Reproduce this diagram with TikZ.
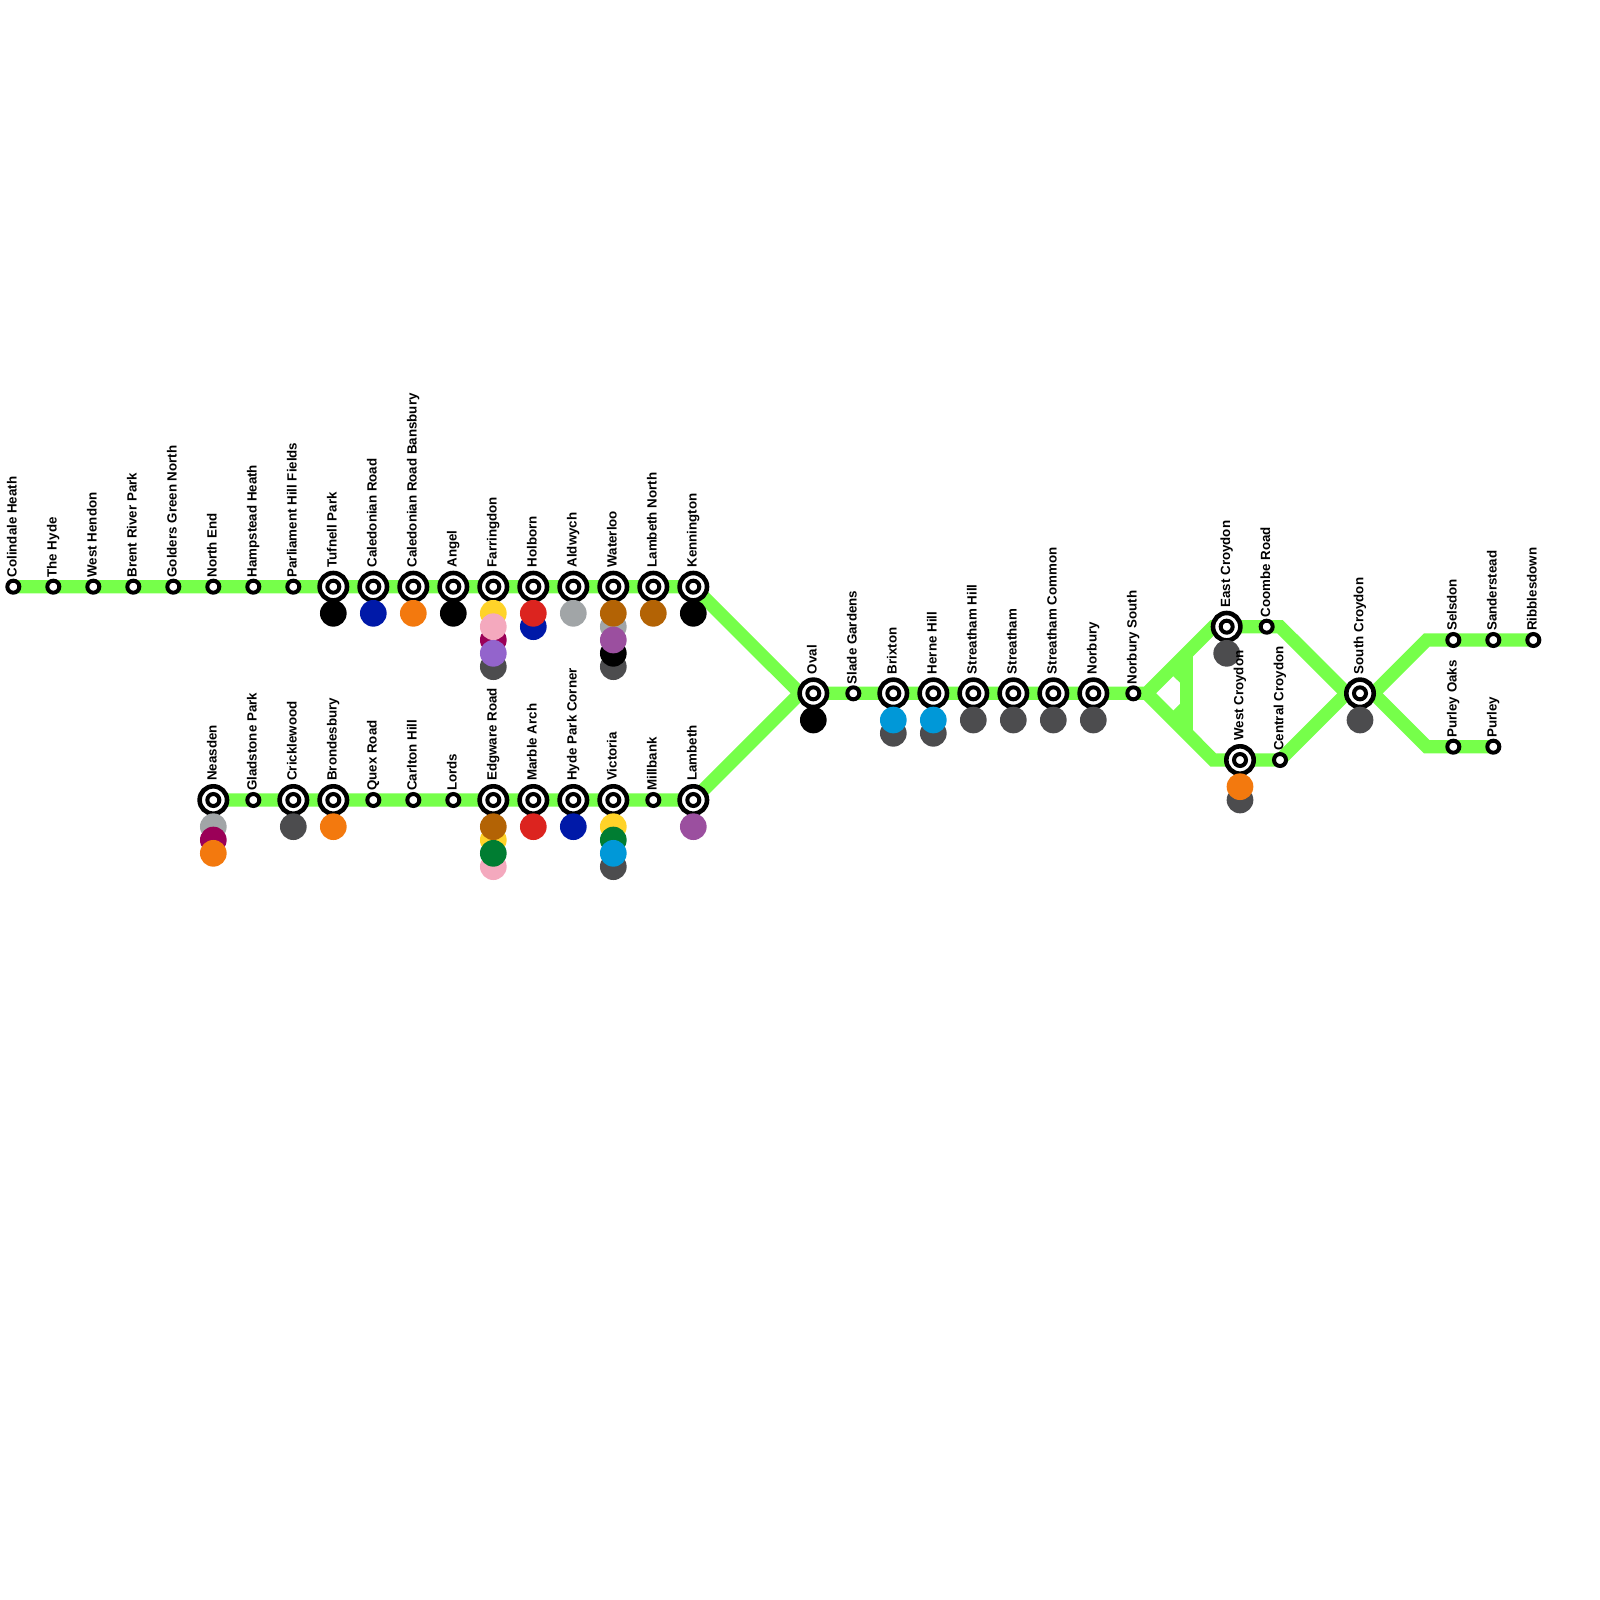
\documentclass[tikz,border=0pt]{standalone}
\usepackage{fontspec}
\setmainfont{Liberation Sans}
\usetikzlibrary{backgrounds}
\definecolor{routegreen}{HTML}{76FF4A}
\definecolor{tyellow}{HTML}{FFD329}
\definecolor{tpink}{HTML}{F4A9BE}
\definecolor{tmagenta}{HTML}{9B0058}
\definecolor{tpurple}{HTML}{9364CC}
\definecolor{tgrey}{HTML}{4C4C4E}
\definecolor{tred}{HTML}{DC241F}
\definecolor{tnavy}{HTML}{0019A8}
\definecolor{tsilver}{HTML}{A1A5A7}
\definecolor{tbrown}{HTML}{B36305}
\definecolor{tviolet}{HTML}{9B4F9F}
\definecolor{torange}{HTML}{F3790E}
\definecolor{tgreen}{HTML}{007D32}
\definecolor{tblue}{HTML}{0098D8}
\tikzset{
  route/.style={draw=routegreen,line width=0.333cm},
  halt/.style={circle,draw=black,fill=white,line width=0.1cm,minimum size=0.3cm,inner sep=0pt},
  interchange/.style={halt,line width=0.115cm,minimum size=0.685cm,
    path picture={\draw[line width=0.1cm] (path picture bounding box.center) circle (0.15);}},
  dot/.style={circle,fill=#1,minimum size=0.667cm,inner sep=0pt},
  lbl/.style={xshift=0.083cm,yshift=-0.025cm,rotate=90,anchor=base west,inner sep=0pt,font=\bfseries\fontsize{9.48}{11}\selectfont},
}
\begin{document}
\begin{tikzpicture}[x=1cm,y=-1cm]
\useasboundingbox (0,0) rectangle (40,40);
% upper row
\node[halt] (colindale) at (0.333,14.667) {};
\node[halt] (hyde) at (1.333,14.667) {};
\node[halt] (hendon) at (2.333,14.667) {};
\node[halt] (brent) at (3.333,14.667) {};
\node[halt] (golders) at (4.333,14.667) {};
\node[halt] (northend) at (5.333,14.667) {};
\node[halt] (hampstead) at (6.333,14.667) {};
\node[halt] (parliament) at (7.333,14.667) {};
\node[interchange] (tufnell) at (8.333,14.667) {};
\node[interchange] (caledonian) at (9.333,14.667) {};
\node[interchange] (bansbury) at (10.333,14.667) {};
\node[interchange] (angel) at (11.333,14.667) {};
\node[interchange] (farringdon) at (12.333,14.667) {};
\node[interchange] (holborn) at (13.333,14.667) {};
\node[interchange] (aldwych) at (14.333,14.667) {};
\node[interchange] (waterloo) at (15.333,14.667) {};
\node[interchange] (lambnorth) at (16.333,14.667) {};
\node[interchange] (kennington) at (17.333,14.667) {};
% lower row
\node[interchange] (neasden) at (5.333,20) {};
\node[halt] (gladstone) at (6.333,20) {};
\node[interchange] (cricklewood) at (7.333,20) {};
\node[interchange] (brondesbury) at (8.333,20) {};
\node[halt] (quex) at (9.333,20) {};
\node[halt] (carlton) at (10.333,20) {};
\node[halt] (lords) at (11.333,20) {};
\node[interchange] (edgware) at (12.333,20) {};
\node[interchange] (marble) at (13.333,20) {};
\node[interchange] (hydepark) at (14.333,20) {};
\node[interchange] (victoria) at (15.333,20) {};
\node[halt] (millbank) at (16.333,20) {};
\node[interchange] (lambeth) at (17.333,20) {};
% middle row
\node[interchange] (oval) at (20.333,17.333) {};
\node[halt] (slade) at (21.333,17.333) {};
\node[interchange] (brixton) at (22.333,17.333) {};
\node[interchange] (herne) at (23.333,17.333) {};
\node[interchange] (sthill) at (24.333,17.333) {};
\node[interchange] (streatham) at (25.333,17.333) {};
\node[interchange] (stcommon) at (26.333,17.333) {};
\node[interchange] (norbury) at (27.333,17.333) {};
\node[halt] (norsouth) at (28.333,17.333) {};
% croydon and south
\node[interchange] (eastcroy) at (30.667,15.667) {};
\node[halt] (coombe) at (31.667,15.667) {};
\node[interchange] (westcroy) at (31,19) {};
\node[halt] (central) at (32,19) {};
\node[interchange] (southcroy) at (34,17.333) {};
\node[halt] (selsdon) at (36.333,16) {};
\node[halt] (sanderstead) at (37.333,16) {};
\node[halt] (ribbles) at (38.333,16) {};
\node[halt] (purleyoaks) at (36.333,18.667) {};
\node[halt] (purley) at (37.333,18.667) {};
% bends
\coordinate (joinoval) at (20,17.333);
\coordinate (fork) at (28.667,17.333);
\coordinate (bendeast) at (30.333,15.667);
\coordinate (bendwest) at (30.333,19);
\coordinate (bendcoombe) at (32,15.667);
\coordinate (joinsouth) at (33.667,17.333);
\coordinate (forksouth) at (34.333,17.333);
\coordinate (bendsel) at (35.667,16);
\coordinate (bendpur) at (35.667,18.667);
\coordinate (linktop) at (29.667,16.333);
\coordinate (linkbot) at (29.667,18.333);
\coordinate (chamfa) at (29.333,16.667);
\coordinate (chamfb) at (29.667,17);
\coordinate (chamfc) at (29.667,17.667);
\coordinate (chamfd) at (29.333,18);
\begin{scope}[on background layer]
\draw[route] (colindale.center) -- (kennington.center) -- (joinoval) -- (norsouth.center) -- (fork) -- (bendeast) -- (coombe.center) -- (bendcoombe) -- (joinsouth) -- (southcroy.center);
\draw[route] (neasden.center) -- (lambeth.center) -- (joinoval);
\draw[route] (fork) -- (bendwest) -- (central.center) -- (joinsouth);
\draw[route] (linktop) -- (linkbot);
\draw[route] (chamfa) -- (chamfb);
\draw[route] (chamfc) -- (chamfd);
\draw[route] (southcroy.center) -- (forksouth) -- (bendsel) -- (ribbles.center);
\draw[route] (forksouth) -- (bendpur) -- (purley.center);
\end{scope}
% line dots
\node[dot=black] (tufnellA) at (8.333,15.333) {};
\node[dot=tnavy] (caledonianA) at (9.333,15.333) {};
\node[dot=torange] (bansburyA) at (10.333,15.333) {};
\node[dot=black] (angelA) at (11.333,15.333) {};
\node[dot=tyellow] (farringdonA) at (12.333,15.333) {};
\node[dot=tmagenta] (farringdonC) at (12.333,16) {};
\node[dot=tgrey] (farringdonE) at (12.333,16.667) {};
\node[dot=tpink] (farringdonB) at (12.333,15.667) {};
\node[dot=tpurple] (farringdonD) at (12.333,16.333) {};
\node[dot=tnavy] (holbornB) at (13.333,15.667) {};
\node[dot=tred] (holbornA) at (13.333,15.333) {};
\node[dot=tsilver] (aldwychA) at (14.333,15.333) {};
\node[dot=tgrey] (waterlooE) at (15.333,16.667) {};
\node[dot=black] (waterlooD) at (15.333,16.333) {};
\node[dot=tsilver] (waterlooB) at (15.333,15.667) {};
\node[dot=tbrown] (waterlooA) at (15.333,15.333) {};
\node[dot=tviolet] (waterlooC) at (15.333,16) {};
\node[dot=tbrown] (lambnorthA) at (16.333,15.333) {};
\node[dot=black] (kenningtonA) at (17.333,15.333) {};
\node[dot=tsilver] (neasdenA) at (5.333,20.667) {};
\node[dot=tmagenta] (neasdenB) at (5.333,21) {};
\node[dot=torange] (neasdenC) at (5.333,21.333) {};
\node[dot=tgrey] (cricklewoodA) at (7.333,20.667) {};
\node[dot=torange] (brondesburyA) at (8.333,20.667) {};
\node[dot=tyellow] (edgwareB) at (12.333,21) {};
\node[dot=tpink] (edgwareD) at (12.333,21.667) {};
\node[dot=tbrown] (edgwareA) at (12.333,20.667) {};
\node[dot=tgreen] (edgwareC) at (12.333,21.333) {};
\node[dot=tred] (marbleA) at (13.333,20.667) {};
\node[dot=tnavy] (hydeparkA) at (14.333,20.667) {};
\node[dot=tyellow] (victoriaA) at (15.333,20.667) {};
\node[dot=tgrey] (victoriaD) at (15.333,21.667) {};
\node[dot=tgreen] (victoriaB) at (15.333,21) {};
\node[dot=tblue] (victoriaC) at (15.333,21.333) {};
\node[dot=tviolet] (lambethA) at (17.333,20.667) {};
\node[dot=black] (ovalA) at (20.333,18) {};
\node[dot=tgrey] (brixtonB) at (22.333,18.333) {};
\node[dot=tblue] (brixtonA) at (22.333,18) {};
\node[dot=tgrey] (herneB) at (23.333,18.333) {};
\node[dot=tblue] (herneA) at (23.333,18) {};
\node[dot=tgrey] (sthillA) at (24.333,18) {};
\node[dot=tgrey] (streathamA) at (25.333,18) {};
\node[dot=tgrey] (stcommonA) at (26.333,18) {};
\node[dot=tgrey] (norburyA) at (27.333,18) {};
\node[dot=tgrey] (eastcroyA) at (30.667,16.333) {};
\node[dot=tgrey] (westcroyB) at (31,20) {};
\node[dot=torange] (westcroyA) at (31,19.667) {};
\node[dot=tgrey] (southcroyA) at (34,18) {};
% labels
\node[lbl] (colindaletxt) at (0.333,14.417) {Colindale Heath};
\node[lbl] (hydetxt) at (1.333,14.417) {The Hyde};
\node[lbl] (hendontxt) at (2.333,14.417) {West Hendon};
\node[lbl] (brenttxt) at (3.333,14.417) {Brent River Park};
\node[lbl] (golderstxt) at (4.333,14.417) {Golders Green North};
\node[lbl] (northendtxt) at (5.333,14.417) {North End};
\node[lbl] (hampsteadtxt) at (6.333,14.417) {Hampstead Heath};
\node[lbl] (parliamenttxt) at (7.333,14.417) {Parliament Hill Fields};
\node[lbl] (tufnelltxt) at (8.333,14.167) {Tufnell Park};
\node[lbl] (caledoniantxt) at (9.333,14.167) {Caledonian Road};
\node[lbl] (bansburytxt) at (10.333,14.167) {Caledonian Road Bansbury};
\node[lbl] (angeltxt) at (11.333,14.167) {Angel};
\node[lbl] (farringdontxt) at (12.333,14.167) {Farringdon};
\node[lbl] (holborntxt) at (13.333,14.167) {Holborn};
\node[lbl] (aldwychtxt) at (14.333,14.167) {Aldwych};
\node[lbl] (waterlootxt) at (15.333,14.167) {Waterloo};
\node[lbl] (lambnorthtxt) at (16.333,14.167) {Lambeth North};
\node[lbl] (kenningtontxt) at (17.333,14.167) {Kennington};
\node[lbl] (neasdentxt) at (5.333,19.5) {Neasden};
\node[lbl] (gladstonetxt) at (6.333,19.75) {Gladstone Park};
\node[lbl] (cricklewoodtxt) at (7.333,19.5) {Cricklewood};
\node[lbl] (brondesburytxt) at (8.333,19.5) {Brondesbury};
\node[lbl] (quextxt) at (9.333,19.75) {Quex Road};
\node[lbl] (carltontxt) at (10.333,19.75) {Carlton Hill};
\node[lbl] (lordstxt) at (11.333,19.75) {Lords};
\node[lbl] (edgwaretxt) at (12.333,19.5) {Edgware Road};
\node[lbl] (marbletxt) at (13.333,19.5) {Marble Arch};
\node[lbl] (hydeparktxt) at (14.333,19.5) {Hyde Park Corner};
\node[lbl] (victoriatxt) at (15.333,19.5) {Victoria};
\node[lbl] (millbanktxt) at (16.333,19.75) {Millbank};
\node[lbl] (lambethtxt) at (17.333,19.5) {Lambeth};
\node[lbl] (ovaltxt) at (20.333,16.833) {Oval};
\node[lbl] (sladetxt) at (21.333,17.083) {Slade Gardens};
\node[lbl] (brixtontxt) at (22.333,16.833) {Brixton};
\node[lbl] (hernetxt) at (23.333,16.833) {Herne Hill};
\node[lbl] (sthilltxt) at (24.333,16.833) {Streatham Hill};
\node[lbl] (streathamtxt) at (25.333,16.833) {Streatham};
\node[lbl] (stcommontxt) at (26.333,16.833) {Streatham Common};
\node[lbl] (norburytxt) at (27.333,16.833) {Norbury};
\node[lbl] (norsouthtxt) at (28.333,17.083) {Norbury South};
\node[lbl] (eastcroytxt) at (30.667,15.167) {East Croydon};
\node[lbl] (coombetxt) at (31.667,15.417) {Coombe Road};
\node[lbl] (westcroytxt) at (31,18.5) {West Croydon};
\node[lbl] (centraltxt) at (32,18.75) {Central Croydon};
\node[lbl] (southcroytxt) at (34,16.833) {South Croydon};
\node[lbl] (selsdontxt) at (36.333,15.75) {Selsdon};
\node[lbl] (sandersteadtxt) at (37.333,15.75) {Sanderstead};
\node[lbl] (ribblestxt) at (38.333,15.75) {Ribblesdown};
\node[lbl] (purleyoakstxt) at (36.333,18.417) {Purley Oaks};
\node[lbl] (purleytxt) at (37.333,18.417) {Purley};
\end{tikzpicture}
\end{document}
